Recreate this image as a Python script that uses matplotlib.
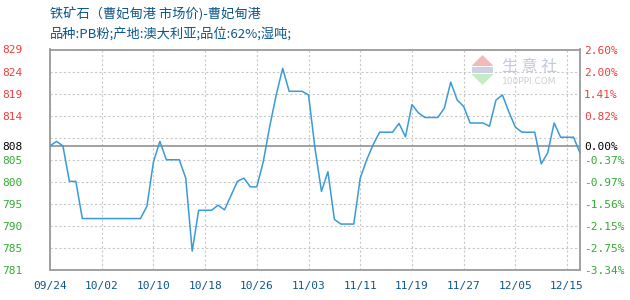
import matplotlib
matplotlib.use('Agg')
import matplotlib.pyplot as plt
from matplotlib.patches import Polygon, Rectangle

# daily price, one point per trading record (yuan / wet ton)
prices = [808.0, 809.0, 808.0, 800.3, 800.3, 792.2, 792.2, 792.2, 792.2, 792.2,
          792.2, 792.2, 792.2, 792.2, 792.2, 794.9, 804.5, 809.0, 805.0, 805.0,
          805.0, 801.0, 785.1, 794.0, 794.0, 794.0, 795.1, 794.1, 797.2, 800.3,
          801.0, 799.1, 799.1, 804.6, 812.3, 819.1, 824.9, 819.9, 819.9, 819.9,
          819.1, 807.5, 798.1, 802.4, 792.0, 791.0, 791.0, 791.0, 801.0, 805.0,
          808.3, 811.0, 811.0, 811.0, 812.9, 810.0, 817.0, 815.2, 814.2, 814.2,
          814.2, 816.2, 821.9, 818.0, 816.6, 813.0, 813.0, 813.0, 812.3, 818.0,
          819.1, 815.4, 812.1, 811.0, 811.0, 811.0, 804.1, 806.5, 813.0, 809.9,
          809.9, 809.9, 806.5]
date_labels = ['09/24', '10/02', '10/10', '10/18', '10/26', '11/03',
               '11/11', '11/19', '11/27', '12/05', '12/15']
label_step = 8
y_min, y_max = 781, 829
n_grid = 10

title = '铁矿石（曹妃甸港 市场价)-曹妃甸港'
subtitle = '品种:PB粉;产地:澳大利亚;品位:62%;湿吨;'

RED = '#f03c3c'
GREEN = '#34aa34'
BLUE_TXT = '#0d5689'
LINE = '#3a9ad8'
FRAME = '#9a9a9a'
GRID = '#c8c8c8'

plt.rcParams['font.family'] = ['DejaVu Sans Mono']
cjk = ['Noto Sans CJK SC', 'DejaVu Sans']

W, H = 630, 300
fig = plt.figure(figsize=(W / 100, H / 100), dpi=100)
ax = fig.add_axes([50 / W, 30 / H, 530 / W, 220.5 / H])

x = list(range(len(prices)))
ax.plot(x, prices, color=LINE, lw=1.1, zorder=3)
ax.set_xlim(0, len(prices) - 1)
ax.set_ylim(y_min, y_max)

base = prices[0]
ax.axhline(base, color=FRAME, lw=1.3, zorder=2)

grid_vals = [y_min + (y_max - y_min) * k / n_grid for k in range(n_grid + 1)]


def keep(v):
    return abs(v - base) > 2.5


# left axis: prices
ax.set_yticks(grid_vals)
ax.set_yticklabels([str(int(v)) if keep(v) else '' for v in grid_vals])
for lab, v in zip(ax.get_yticklabels(), grid_vals):
    lab.set_color(RED if v > base else GREEN)
ax.set_yticks([base], minor=True)
ax.set_yticklabels([str(int(base))], minor=True, color='black')
ax.tick_params(axis='y', which='both', length=0, pad=20, labelsize=8)

# x axis: dates every label_step points
xt = list(range(0, len(prices), label_step))[:len(date_labels)]
ax.set_xticks(xt)
ax.set_xticklabels(date_labels, color=BLUE_TXT)
ax.tick_params(axis='x', length=0, pad=8, labelsize=8)

ax.grid(True, which='major', color=GRID, lw=0.8, linestyle=(0, (2, 2)), zorder=1)
for s in ax.spines.values():
    s.set_color(FRAME)
    s.set_linewidth(1.3)

# right axis: change vs first value
ax2 = ax.twinx()
ax2.set_ylim(y_min, y_max)
ax2.set_yticks(grid_vals)
ax2.set_yticklabels(['{:.2f}%'.format((v / base - 1) * 100) if keep(v) else ''
                     for v in grid_vals])
for lab, v in zip(ax2.get_yticklabels(), grid_vals):
    lab.set_color(RED if v > base else GREEN)
ax2.set_yticks([base], minor=True)
ax2.set_yticklabels(['0.00%'], minor=True, color='black')
ax2.tick_params(axis='y', which='both', length=0, pad=3, labelsize=8)
for s in ax2.spines.values():
    s.set_visible(False)

# header
fig.text(50 / W, 1 - 14 / H, title, family=cjk, fontsize=9.5,
         color=BLUE_TXT, va='center', ha='left')
fig.text(50 / W, 1 - 34 / H, subtitle, family=cjk, fontsize=9.5,
         color=BLUE_TXT, va='center', ha='left')

# watermark
def px(xp, yp):
    return (xp / W, 1 - yp / H)

fig.patches.append(Polygon([px(482.5, 55), px(471.5, 66), px(493.5, 66)],
                           closed=True, transform=fig.transFigure,
                           facecolor='#f6b9b9', edgecolor='none', zorder=0))
fig.patches.append(Rectangle(px(472, 73), 21 / W, 6 / H,
                             transform=fig.transFigure,
                             facecolor='#cdd1e2', edgecolor='none', zorder=0))
fig.patches.append(Polygon([px(471.5, 74), px(493.5, 74), px(482.5, 85)],
                           closed=True, transform=fig.transFigure,
                           facecolor='#c3ebc4', edgecolor='none', zorder=0))
fig.text(502 / W, 1 - 66 / H, '生 意 社', family=cjk, fontsize=11.5,
         color='#c3c9de', va='center', ha='left', zorder=0)
fig.text(502 / W, 1 - 81 / H, '100PPI.COM', family=['DejaVu Sans'],
         fontsize=6.5, color='#cfcfcf', va='center', ha='left', zorder=0)

fig.savefig('out.png', dpi=100)
